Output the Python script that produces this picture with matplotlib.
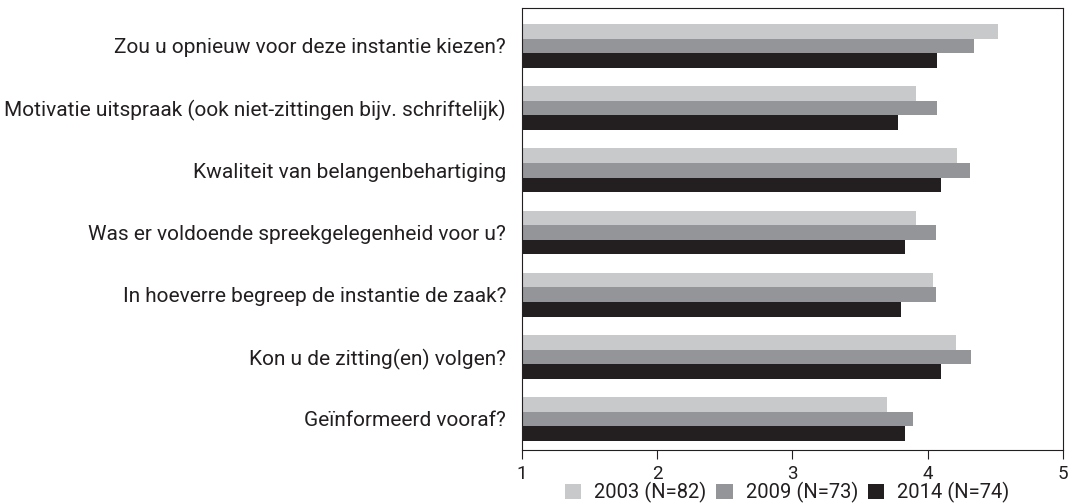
import matplotlib
matplotlib.use("Agg")
import matplotlib.pyplot as plt
import numpy as np

# Survey items, top to bottom as shown
items = [
    "Zou u opnieuw voor deze instantie kiezen?",
    "Motivatie uitspraak (ook niet-zittingen bijv. schriftelijk)",
    "Kwaliteit van belangenbehartiging",
    "Was er voldoende spreekgelegenheid voor u?",
    "In hoeverre begreep de instantie de zaak?",
    "Kon u de zitting(en) volgen?",
    "Geïnformeerd vooraf?",
]
scores_2003 = [4.52, 3.91, 4.22, 3.91, 4.04, 4.21, 3.70]
scores_2009 = [4.34, 4.07, 4.31, 4.06, 4.06, 4.32, 3.89]
scores_2014 = [4.07, 3.78, 4.10, 3.83, 3.80, 4.10, 3.83]
series_labels = ["2003 (N=82)", "2009 (N=73)", "2014 (N=74)"]
colors = ["#c8c9cb", "#939598", "#231f20"]

plt.rcParams['font.family'] = ['Roboto', 'DejaVu Sans']

fig = plt.figure(figsize=(10.71, 5.04), dpi=100)
ax = fig.add_axes([0.4874, 0.107, 0.5051, 0.877])

n = len(items)
ypos = np.arange(n)[::-1]
h = 0.235
for k, (vals, lab, col) in enumerate(zip([scores_2003, scores_2009, scores_2014],
                                          series_labels, colors)):
    ax.barh(ypos + (1 - k) * h, np.array(vals) - 1, left=1, height=h,
            color=col, label=lab, linewidth=0)

ax.set_xlim(1, 5)
ax.set_ylim(-0.5, 6.61)
ax.set_xticks([1, 2, 3, 4, 5])
ax.tick_params(axis='x', direction='out', length=6.5, width=0.8,
               color='#231f20', labelsize=13.5, labelcolor='#231f20', pad=4)
ax.set_yticks(ypos)
ax.set_yticklabels(items, fontsize=15, color='#231f20')
ax.tick_params(axis='y', length=0, pad=11.5)
for sp in ax.spines.values():
    sp.set_color('#231f20')
    sp.set_linewidth(0.8)

fig.legend(loc='center', bbox_to_anchor=(0.735, 0.022), ncol=3, frameon=False,
           fontsize=14.5, handlelength=0.8, handleheight=0.8, handletextpad=0.65,
           columnspacing=0.5, labelcolor='#231f20', borderaxespad=0, borderpad=0)

fig.savefig("out.png", dpi=100)
